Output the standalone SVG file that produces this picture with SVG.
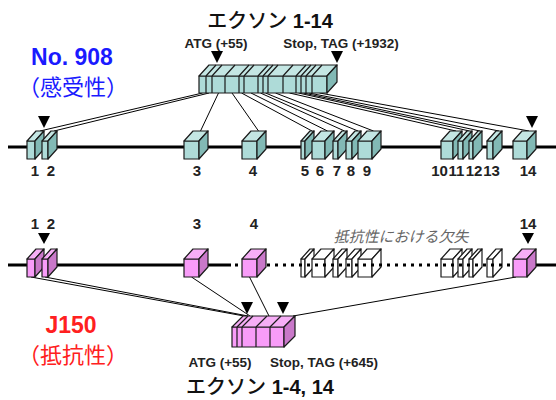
<svg xmlns="http://www.w3.org/2000/svg" width="556" height="400" viewBox="0 0 556 400">
  <style>
    .line { stroke: #000; stroke-width: 3; fill: none; }
    .dots { stroke: #000; stroke-width: 3; fill: none; stroke-dasharray: 3 5; }
    .conn line { stroke: #000; stroke-width: 1; }
    .edge { stroke: #1a1a1a; stroke-width: 1.2; stroke-linejoin: round; }
    .t-front { fill: #aedbd8; }
    .t-top { fill: #c4e6e3; }
    .t-side { fill: #82b9b5; }
    .p-front { fill: #f89cf8; }
    .p-top { fill: #f6aef6; }
    .p-side { fill: #c978c9; }
    .w { fill: #fff; }
    .div { stroke: #1a1a1a; stroke-width: 1.2; fill: none; }
    .tri { fill: #000; }
    .lbl { font-family: "Liberation Sans", Arial, sans-serif; font-weight: bold; font-size: 15px; fill: #222; text-anchor: middle; }
    .site { font-family: "Liberation Sans", Arial, sans-serif; font-weight: bold; font-size: 13.5px; fill: #222; text-anchor: middle; }
    .title { font-family: "Liberation Sans", "Noto Sans CJK JP", sans-serif; font-size: 20px; fill: #111; text-anchor: middle; }
    .jp { font-family: "Noto Sans CJK JP", sans-serif; font-weight: 500; }
    .num { font-family: "Liberation Sans", Arial, sans-serif; font-weight: bold; }
    .name { font-family: "Liberation Sans", "Noto Sans CJK JP", sans-serif; font-weight: bold; font-size: 23px; text-anchor: middle; }
    .trait { font-family: "Noto Sans CJK JP", sans-serif; font-size: 22px; text-anchor: middle; }
    .note { font-family: "Noto Sans CJK JP", sans-serif; font-style: italic; font-size: 15px; fill: #666; text-anchor: middle; }
  </style>

  <!-- headings -->
  <text class="title" x="270" y="28"><tspan class="jp">エクソン</tspan><tspan class="num"> 1-14</tspan></text>
  <text class="site" x="216" y="48">ATG (+55)</text>
  <text class="site" x="341" y="48">Stop, TAG (+1932)</text>
  <text class="name" x="72" y="65" fill="#1a1aff">No. 908</text>
  <text class="trait" x="73" y="95" fill="#1a1aff">（感受性）</text>

  <text class="name" x="71" y="333" fill="#ff2020">J150</text>
  <text class="trait" x="73" y="363" fill="#ff2020">（抵抗性）</text>
  <text class="site" x="220" y="367">ATG (+55)</text>
  <text class="site" x="324" y="367">Stop, TAG (+645)</text>
  <text class="title" x="260" y="394"><tspan class="jp">エクソン</tspan><tspan class="num"> 1-4, 14</tspan></text>

  <!-- connectors: spliced mRNA exons to genomic exons -->
  <g id="connectors" class="conn">
    <line x1="202.5" y1="93" x2="40" y2="131"/>
    <line x1="209" y1="93" x2="54" y2="131"/>
    <line x1="218.5" y1="93" x2="200.5" y2="131"/>
    <line x1="232" y1="93" x2="258.5" y2="131"/>
    <line x1="241.5" y1="93" x2="312" y2="131"/>
    <line x1="251" y1="93" x2="327.5" y2="131"/>
    <line x1="260.5" y1="93" x2="344.5" y2="131"/>
    <line x1="265.5" y1="93" x2="358" y2="131"/>
    <line x1="275.5" y1="93" x2="373.5" y2="131"/>
    <line x1="289.5" y1="93" x2="456" y2="131"/>
    <line x1="298.5" y1="93" x2="469.5" y2="131"/>
    <line x1="303.5" y1="93" x2="480" y2="131"/>
    <line x1="309" y1="93" x2="499" y2="131"/>
    <line x1="319.5" y1="93" x2="529" y2="131"/>

    <line x1="31" y1="277" x2="244" y2="316"/>
    <line x1="45" y1="277" x2="248" y2="316"/>
    <line x1="191.5" y1="277" x2="250" y2="316"/>
    <line x1="249.5" y1="277" x2="269" y2="316"/>
    <line x1="516" y1="277" x2="293" y2="316"/>
  </g>

  <!-- mRNA bar, No. 908 -->
  <g id="mrna-908">
    <rect class="t-front edge" x="199" y="76" width="128" height="17"/>
    <polygon class="t-top edge" points="199,76 327,76 337,65 209,65"/>
    <polygon class="t-side edge" points="327,76 337,65 337,82 327,93"/>
    <path class="div" d="M206,76V93M212,76V93M225,76V93M239,76V93M244,76V93M258,76V93M263,76V93M268,76V93M283,76V93M296,76V93M301,76V93M306,76V93M312,76V93
      M206,76l10,-11M212,76l10,-11M225,76l10,-11M239,76l10,-11M244,76l10,-11M258,76l10,-11M263,76l10,-11M268,76l10,-11M283,76l10,-11M296,76l10,-11M301,76l10,-11M306,76l10,-11M312,76l10,-11"/>
    <polygon class="tri" points="211,51 223,51 217,63"/>
    <polygon class="tri" points="331,51 343,51 337,63"/>
  </g>

  <!-- genomic line, No. 908 -->
  <g id="gene-908">
    <line class="line" x1="8" y1="147" x2="556" y2="147"/>
    <g id="g908-e1"><rect class="t-front edge" x="27" y="141" width="8" height="18"/><polygon class="t-top edge" points="27,141 35,141 44,131 36,131"/><polygon class="t-side edge" points="35,141 44,131 44,149 35,159"/></g>
    <g id="g908-e2"><rect class="t-front edge" x="42" y="141" width="6" height="18"/><polygon class="t-top edge" points="42,141 48,141 57,131 51,131"/><polygon class="t-side edge" points="48,141 57,131 57,149 48,159"/></g>
    <g id="g908-e3"><rect class="t-front edge" x="184" y="141" width="15" height="18"/><polygon class="t-top edge" points="184,141 199,141 208,131 193,131"/><polygon class="t-side edge" points="199,141 208,131 208,149 199,159"/></g>
    <g id="g908-e4"><rect class="t-front edge" x="242" y="141" width="15" height="18"/><polygon class="t-top edge" points="242,141 257,141 266,131 251,131"/><polygon class="t-side edge" points="257,141 266,131 266,149 257,159"/></g>
    <g id="g908-e5"><rect class="t-front edge" x="301" y="141" width="4" height="18"/><polygon class="t-top edge" points="301,141 305,141 314,131 310,131"/><polygon class="t-side edge" points="305,141 314,131 314,149 305,159"/></g>
    <g id="g908-e6"><rect class="t-front edge" x="312" y="141" width="13" height="18"/><polygon class="t-top edge" points="312,141 325,141 334,131 321,131"/><polygon class="t-side edge" points="325,141 334,131 334,149 325,159"/></g>
    <g id="g908-e7"><rect class="t-front edge" x="333" y="141" width="5" height="18"/><polygon class="t-top edge" points="333,141 338,141 347,131 342,131"/><polygon class="t-side edge" points="338,141 347,131 347,149 338,159"/></g>
    <g id="g908-e8"><rect class="t-front edge" x="346" y="141" width="6" height="18"/><polygon class="t-top edge" points="346,141 352,141 361,131 355,131"/><polygon class="t-side edge" points="352,141 361,131 361,149 352,159"/></g>
    <g id="g908-e9"><rect class="t-front edge" x="358" y="141" width="14" height="18"/><polygon class="t-top edge" points="358,141 372,141 381,131 367,131"/><polygon class="t-side edge" points="372,141 381,131 381,149 372,159"/></g>
    <g id="g908-e10"><rect class="t-front edge" x="441" y="141" width="12" height="18"/><polygon class="t-top edge" points="441,141 453,141 462,131 450,131"/><polygon class="t-side edge" points="453,141 462,131 462,149 453,159"/></g>
    <g id="g908-e11"><rect class="t-front edge" x="458" y="141" width="5" height="18"/><polygon class="t-top edge" points="458,141 463,141 472,131 467,131"/><polygon class="t-side edge" points="463,141 472,131 472,149 463,159"/></g>
    <g id="g908-e12"><rect class="t-front edge" x="469" y="141" width="4" height="18"/><polygon class="t-top edge" points="469,141 473,141 482,131 478,131"/><polygon class="t-side edge" points="473,141 482,131 482,149 473,159"/></g>
    <g id="g908-e13"><rect class="t-front edge" x="487" y="141" width="6" height="18"/><polygon class="t-top edge" points="487,141 493,141 502,131 496,131"/><polygon class="t-side edge" points="493,141 502,131 502,149 493,159"/></g>
    <g id="g908-e14"><rect class="t-front edge" x="513" y="141" width="14" height="18"/><polygon class="t-top edge" points="513,141 527,141 536,131 522,131"/><polygon class="t-side edge" points="527,141 536,131 536,149 527,159"/></g>
    <polygon class="tri" points="38,116 50,116 44,128"/>
    <polygon class="tri" points="526,116 538,116 532,128"/>
    <text class="lbl" x="35" y="176">1</text>
    <text class="lbl" x="51" y="176">2</text>
    <text class="lbl" x="197" y="176">3</text>
    <text class="lbl" x="253" y="176">4</text>
    <text class="lbl" x="305" y="176">5</text>
    <text class="lbl" x="320" y="176">6</text>
    <text class="lbl" x="337" y="176">7</text>
    <text class="lbl" x="351" y="176">8</text>
    <text class="lbl" x="367" y="176">9</text>
    <text class="lbl" x="439.5" y="176">10</text>
    <text class="lbl" x="456.5" y="176">11</text>
    <text class="lbl" x="474" y="176">12</text>
    <text class="lbl" x="491.5" y="176">13</text>
    <text class="lbl" x="528" y="176">14</text>
  </g>

  <!-- genomic line, J150 (exons 5-13 deleted) -->
  <g id="gene-j150">
    <g id="j150-deleted" transform="translate(0,118)">
      <g><rect class="w edge" x="301" y="141" width="4" height="18"/><polygon class="w edge" points="301,141 305,141 314,131 310,131"/><polygon class="w edge" points="305,141 314,131 314,149 305,159"/></g>
      <g><rect class="w edge" x="312" y="141" width="13" height="18"/><polygon class="w edge" points="312,141 325,141 334,131 321,131"/><polygon class="w edge" points="325,141 334,131 334,149 325,159"/></g>
      <g><rect class="w edge" x="333" y="141" width="5" height="18"/><polygon class="w edge" points="333,141 338,141 347,131 342,131"/><polygon class="w edge" points="338,141 347,131 347,149 338,159"/></g>
      <g><rect class="w edge" x="346" y="141" width="6" height="18"/><polygon class="w edge" points="346,141 352,141 361,131 355,131"/><polygon class="w edge" points="352,141 361,131 361,149 352,159"/></g>
      <g><rect class="w edge" x="358" y="141" width="14" height="18"/><polygon class="w edge" points="358,141 372,141 381,131 367,131"/><polygon class="w edge" points="372,141 381,131 381,149 372,159"/></g>
      <g><rect class="w edge" x="441" y="141" width="12" height="18"/><polygon class="w edge" points="441,141 453,141 462,131 450,131"/><polygon class="w edge" points="453,141 462,131 462,149 453,159"/></g>
      <g><rect class="w edge" x="458" y="141" width="5" height="18"/><polygon class="w edge" points="458,141 463,141 472,131 467,131"/><polygon class="w edge" points="463,141 472,131 472,149 463,159"/></g>
      <g><rect class="w edge" x="469" y="141" width="4" height="18"/><polygon class="w edge" points="469,141 473,141 482,131 478,131"/><polygon class="w edge" points="473,141 482,131 482,149 473,159"/></g>
      <g><rect class="w edge" x="487" y="141" width="6" height="18"/><polygon class="w edge" points="487,141 493,141 502,131 496,131"/><polygon class="w edge" points="493,141 502,131 502,149 493,159"/></g>
    </g>
    <line class="line" x1="8" y1="265" x2="231" y2="265"/>
    <line class="dots" x1="235" y1="265" x2="512" y2="265"/>
    <line class="line" x1="530" y1="265" x2="556" y2="265"/>
    <g transform="translate(0,118)">
      <g id="j150-e1"><rect class="p-front edge" x="27" y="141" width="8" height="18"/><polygon class="p-top edge" points="27,141 35,141 44,131 36,131"/><polygon class="p-side edge" points="35,141 44,131 44,149 35,159"/></g>
      <g id="j150-e2"><rect class="p-front edge" x="42" y="141" width="6" height="18"/><polygon class="p-top edge" points="42,141 48,141 57,131 51,131"/><polygon class="p-side edge" points="48,141 57,131 57,149 48,159"/></g>
      <g id="j150-e3"><rect class="p-front edge" x="184" y="141" width="15" height="18"/><polygon class="p-top edge" points="184,141 199,141 208,131 193,131"/><polygon class="p-side edge" points="199,141 208,131 208,149 199,159"/></g>
      <g id="j150-e4"><rect class="p-front edge" x="242" y="141" width="15" height="18"/><polygon class="p-top edge" points="242,141 257,141 266,131 251,131"/><polygon class="p-side edge" points="257,141 266,131 266,149 257,159"/></g>
      <g id="j150-e14"><rect class="p-front edge" x="513" y="141" width="14" height="18"/><polygon class="p-top edge" points="513,141 527,141 536,131 522,131"/><polygon class="p-side edge" points="527,141 536,131 536,149 527,159"/></g>
    </g>
    <polygon class="tri" points="38,233 50,233 44,244"/>
    <polygon class="tri" points="522,233 534,233 528,244"/>
    <text class="lbl" x="35" y="229">1</text>
    <text class="lbl" x="51" y="229">2</text>
    <text class="lbl" x="197" y="229">3</text>
    <text class="lbl" x="254" y="229">4</text>
    <text class="lbl" x="528" y="229">14</text>
    <text class="note" x="401" y="242">抵抗性における欠失</text>
  </g>

  <!-- mRNA bar, J150 -->
  <g id="mrna-j150">
    <rect class="p-front edge" x="232" y="327" width="52" height="20"/>
    <polygon class="p-top edge" points="232,327 284,327 295,316 243,316"/>
    <polygon class="p-side edge" points="284,327 295,316 295,336 284,347"/>
    <path class="div" d="M237,327V347M242,327V347M256,327V347M270,327V347M237,327l11,-11M242,327l11,-11M256,327l11,-11M270,327l11,-11"/>
    <polygon class="tri" points="241,302 253,302 247,314"/>
    <polygon class="tri" points="277,302 289,302 283,314"/>
  </g>
</svg>
